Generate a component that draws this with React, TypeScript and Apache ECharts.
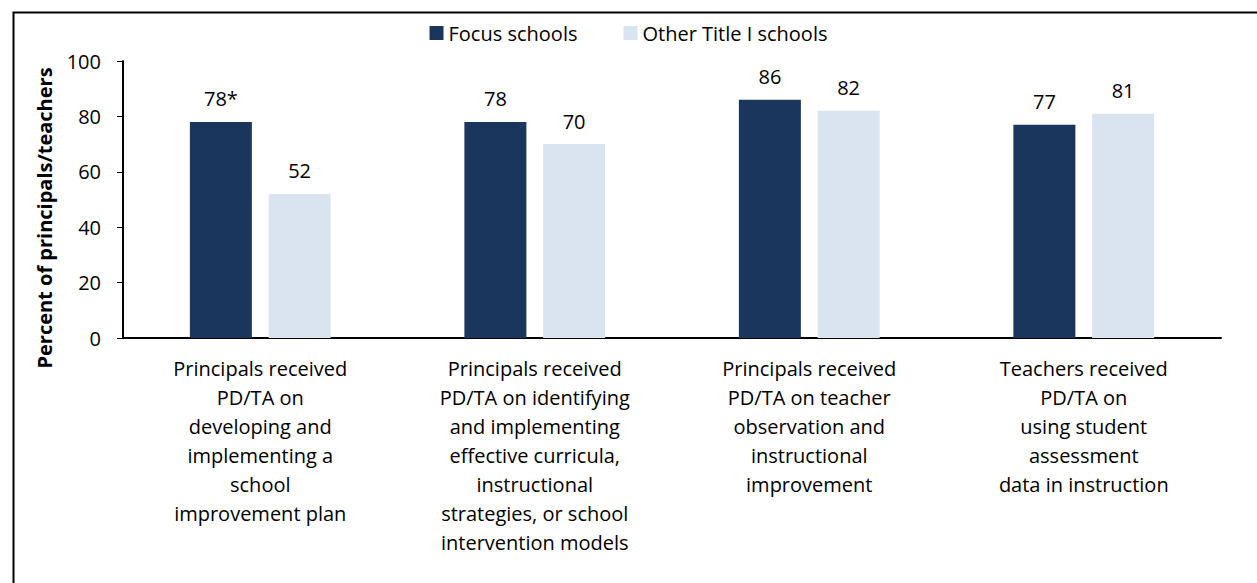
import React, { useEffect, useRef } from "react";
import * as echarts from "echarts";

const categories = [
  "Principals received\nPD/TA on\ndeveloping and\nimplementing a\nschool\nimprovement plan",
  "Principals received\nPD/TA on identifying\nand implementing\neffective curricula,\ninstructional\nstrategies, or school\nintervention models",
  "Principals received\nPD/TA on teacher\nobservation and\ninstructional\nimprovement",
  "Teachers received\nPD/TA on\nusing student\nassessment\ndata in instruction",
];
const focusValues = [78, 78, 86, 77];
const focusLabels = ["78*", "78", "86", "77"];
const otherValues = [52, 70, 82, 81];
const yTicks = [0, 20, 40, 60, 80, 100];
const seriesNames = ["Focus schools", "Other Title I schools"];
const yAxisTitle = "Percent of principals/teachers";

const FONT = "'Open Sans', Lato, sans-serif";
const FS = 20;

export default function App() {
  const ref = useRef<HTMLDivElement>(null);
  useEffect(() => {
    if (!ref.current) return;
    const chart = echarts.init(ref.current, undefined, { renderer: "svg" });
    chart.setOption({
      animation: false,
      textStyle: { fontFamily: FONT },
      graphic: [
        {
          type: "rect",
          left: 11,
          top: 10,
          shape: { width: 1400, height: 800 },
          style: { fill: "none", stroke: "#000", lineWidth: 2 },
          silent: true,
        },
        {
          type: "text",
          x: 44,
          y: 218,
          rotation: Math.PI / 2,
          style: {
            text: yAxisTitle,
            fontSize: FS,
            fontWeight: "bold",
            fontFamily: FONT,
            fill: "#000",
            textAlign: "center",
            textVerticalAlign: "middle",
          },
          silent: true,
        },
      ],
      legend: {
        top: 18,
        left: "center",
        itemWidth: 14,
        itemHeight: 14,
        itemGap: 46,
        icon: "rect",
        textStyle: { fontSize: FS, color: "#000", fontFamily: FONT },
        data: seriesNames,
      },
      grid: { left: 123, right: 36, top: 61, bottom: 245 },
      xAxis: {
        type: "category",
        data: categories,
        axisLine: { lineStyle: { color: "#000", width: 2 } },
        axisTick: { alignWithLabel: true, length: 6, lineStyle: { color: "#000" } },
        axisLabel: {
          color: "#000",
          fontSize: FS,
          lineHeight: 29,
          margin: 16,
          interval: 0,
          align: "center",
          fontFamily: FONT,
        },
      },
      yAxis: {
        type: "value",
        min: 0,
        max: 100,
        interval: 20,
        axisLine: { show: true, lineStyle: { color: "#000", width: 2 } },
        axisTick: { show: true, length: 6, lineStyle: { color: "#000" } },
        axisLabel: {
          color: "#000",
          fontSize: FS,
          margin: 22,
          fontFamily: FONT,
          formatter: (v: number) => (yTicks.includes(v) ? String(v) : ""),
        },
        splitLine: { show: false },
      },
      series: [
        {
          name: seriesNames[0],
          type: "bar",
          data: focusValues,
          barWidth: 62,
          barGap: "27%",
          itemStyle: { color: "#1b365d" },
          label: {
            show: true,
            position: "top",
            distance: 13,
            fontSize: FS,
            color: "#000",
            fontFamily: FONT,
            formatter: (p: any) => focusLabels[p.dataIndex],
          },
        },
        {
          name: seriesNames[1],
          type: "bar",
          data: otherValues,
          barWidth: 62,
          itemStyle: { color: "#dae4f1" },
          label: {
            show: true,
            position: "top",
            distance: 13,
            fontSize: FS,
            color: "#000",
            fontFamily: FONT,
          },
        },
      ],
    });
    return () => chart.dispose();
  }, []);
  return (
    <div
      ref={ref}
      style={{ position: "absolute", left: 0, top: 0, width: 1257, height: 583, background: "#fff" }}
    />
  );
}
